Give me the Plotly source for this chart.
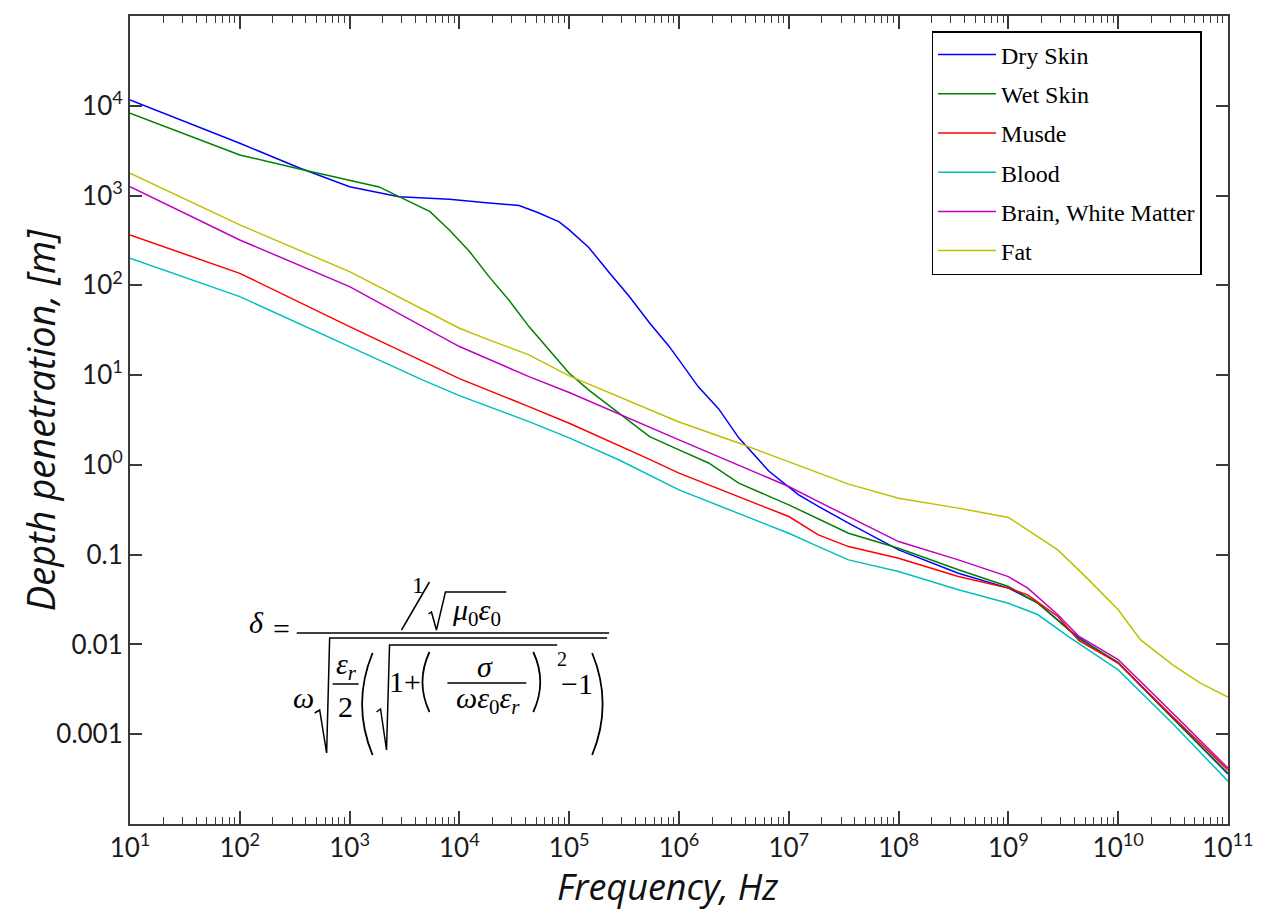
import plotly.graph_objects as go

# ---------------- data ----------------
dry_f = [1e1, 1e2, 3.5e2, 1e3, 2.82e3, 8.1e3, 1.86e4, 3.5e4, 5.3e4, 8.1e4, 1e5, 1.5e5, 2.3e5,
         3.5e5, 5.4e5, 8.1e5, 1e6, 1.5e6, 2.3e6, 3.5e6, 6.6e6, 1e7, 1.23e7, 1.86e7,
         3.5e7, 1e8, 3.5e8, 1e9, 1.86e9, 4.4e9, 1e10, 3.16e10, 1e11]
dry_d = [11600, 3820, 2030, 1256, 972, 910, 827, 775, 640, 510, 414, 266, 140,
         76, 38, 21, 14.8, 7.4, 4.2, 2.0, 0.85, 0.574, 0.464, 0.345,
         0.224, 0.113, 0.0622, 0.0424, 0.0288, 0.0118, 0.0062, 0.0015, 0.00036]

wet_f = [1e1, 1e2, 3.5e2, 1e3, 1.86e3, 2.82e3, 5.4e3, 8.1e3, 1.23e4, 1.86e4, 2.82e4, 4.3e4,
         6.6e4, 1e5, 1.5e5, 2.82e5, 5.4e5, 1e6, 1.86e6, 3.5e6, 1e7, 3.5e7, 1e8, 3.5e8, 1e9,
         1.86e9, 4.4e9, 1e10, 3.16e10, 1e11]
wet_d = [8250, 2830, 1980, 1490, 1247, 972, 662, 414, 240, 125, 68.7, 34.7,
         19.1, 10.5, 6.84, 3.76, 2.06, 1.47, 1.05, 0.626, 0.359, 0.173, 0.118, 0.0678, 0.0442,
         0.0288, 0.0115, 0.0063, 0.0015, 0.00037]

muscle_f = [1e1, 1e2, 1e3, 1e4, 4.3e4, 1e5, 5.4e5, 1e6, 1e7, 1.86e7, 3.5e7, 1e8, 3.5e8, 1e9,
            1.5e9, 2.82e9, 4.4e9, 1e10, 3.16e10, 1e11]
muscle_d = [364, 136, 34.7, 9.14, 4.46, 2.91, 1.15, 0.809, 0.266, 0.166, 0.123, 0.0914, 0.057, 0.0424,
            0.0357, 0.0205, 0.011, 0.0062, 0.00155, 0.0004]

blood_f = [1e1, 1e2, 1e3, 4.6e3, 1e4, 4.3e4, 1e5, 2.82e5, 1e6, 1e7, 1.86e7, 3.5e7, 1e8, 3.5e8,
           1e9, 1.86e9, 3.5e9, 1e10, 3.16e10, 1e11]
blood_d = [200, 74.8, 20.8, 8.85, 5.91, 3.03, 2.0, 1.14, 0.527, 0.173, 0.123, 0.0875, 0.0649, 0.0406,
           0.0288, 0.0214, 0.0123, 0.0052, 0.0013, 0.0003]

brain_f = [1e1, 1e2, 1e3, 1e4, 4.3e4, 1e5, 1e6, 1e7, 1.86e7, 3.5e7, 1e8, 3.5e8, 1e9, 1.5e9,
           2.82e9, 4.4e9, 1e10, 3.16e10, 1e11]
brain_d = [1256, 320, 96.8, 20.8, 9.62, 6.4, 1.9, 0.574, 0.39, 0.266, 0.14, 0.0875, 0.057, 0.0424,
           0.0214, 0.01226, 0.0068, 0.0017, 0.00042]

fat_f = [1e1, 1e2, 1e3, 8.1e3, 1e4, 1.86e4, 4.3e4, 1e5, 1e6, 3.5e6, 1e7, 1.86e7, 3.5e7, 1e8,
         3.5e8, 1e9, 1.5e9, 2.82e9, 5.4e9, 1e10, 1.6e10, 3.16e10, 5.6e10, 1e11]
fat_d = [1771, 471, 142, 37.8, 33.3, 24.7, 16.8, 9.8, 3.0, 1.75, 1.09, 0.809, 0.61, 0.426,
         0.33, 0.26, 0.189, 0.113, 0.0524, 0.0243, 0.01125, 0.0059, 0.0037, 0.0026]

series_names = ["Dry Skin", "Wet Skin", "Musde", "Blood", "Brain, White Matter", "Fat"]
series_f = [dry_f, wet_f, muscle_f, blood_f, brain_f, fat_f]
series_d = [dry_d, wet_d, muscle_d, blood_d, brain_d, fat_d]
series_colors = ["#0000FF", "#008000", "#FF0000", "#00BFBF", "#BF00BF", "#BFBF00"]

x_tickvals = [10 ** k for k in range(1, 12)]
x_ticktext = ["10<sup>%d</sup>" % k for k in range(1, 12)]
y_tickvals = [1e-3, 1e-2, 1e-1, 1e0, 1e1, 1e2, 1e3, 1e4, 1e5]
y_ticktext = ["0.001", "0.01", "0.1", "10<sup>0</sup>", "10<sup>1</sup>", "10<sup>2</sup>",
              "10<sup>3</sup>", "10<sup>4</sup>", "10<sup>5</sup>"]

# ---------------- figure ----------------
W, H = 1266, 914
ML, MR, MT, MB = 130, 36, 16, 90
PW, PH = W - ML - MR, H - MT - MB


def px(x):
    return (x - ML) / PW


def py(y):
    return (MT + PH - y) / PH


fig = go.Figure()
for i, (name, f, d, c) in enumerate(zip(series_names, series_f, series_d, series_colors)):
    fig.add_trace(go.Scatter(x=f, y=d, mode="lines", name=name, legendgroup="g%d" % i,
                             line=dict(color=c, width=1.5)))

axis_col = "#3a3a3a"
tick_font = dict(family="Lato, Open Sans, sans-serif", size=26, color="#1a1a1a")
minor_x = [m * 10 ** k for k in range(1, 11) for m in range(2, 10)]

fig.update_xaxes(type="log", range=[1, 11], tickmode="array", tickvals=x_tickvals,
                 ticktext=x_ticktext, ticks="inside", ticklen=13, tickwidth=1.5,
                 tickcolor=axis_col, showline=True, linecolor=axis_col, linewidth=2,
                 mirror="ticks", showgrid=False, zeroline=False, tickfont=tick_font,
                 minor=dict(tickvals=minor_x, ticks="inside", ticklen=7, tickwidth=1.2,
                            tickcolor=axis_col, showgrid=False))
fig.update_yaxes(type="log", range=[-4, 5], tickmode="array", tickvals=y_tickvals,
                 ticktext=y_ticktext, ticks="inside", ticklen=12, tickwidth=1.5,
                 tickcolor=axis_col, showline=True, linecolor=axis_col, linewidth=2,
                 mirror="ticks", showgrid=False, zeroline=False, tickfont=tick_font)

annotations = [
    dict(text="<i>Frequency, Hz</i>", x=px(668), y=py(886), xref="paper", yref="paper",
         showarrow=False, xanchor="center", yanchor="middle",
         font=dict(family="Open Sans, Lato, sans-serif", size=36, color="#111111")),
    dict(text="<i>Depth penetration, [m]</i>", x=px(40), y=py(420), xref="paper", yref="paper",
         showarrow=False, xanchor="center", yanchor="middle", textangle=-90,
         font=dict(family="Open Sans, Lato, sans-serif", size=38, color="#111111")),
]

# ---------------- formula (text + drawn strokes) ----------------
eq_font = dict(family="Liberation Serif, Times New Roman, serif", size=30, color="black")
eq_small = dict(family="Liberation Serif, Times New Roman, serif", size=20, color="black")


def eq_text(t, x, y, font=eq_font):
    annotations.append(dict(text=t, x=px(x), y=py(y), xref="paper", yref="paper",
                            showarrow=False, xanchor="center", yanchor="middle", font=font))


eq_text("<i>δ</i>", 257, 622)
eq_text("=", 282, 628)
eq_text("1", 419, 585, dict(eq_font, size=24))
eq_text("<i>μ</i><sub>0</sub><i>ε</i><sub>0</sub>", 477, 612)
eq_text("<i>ω</i>", 304, 697)
eq_text("<i>ε<sub>r</sub></i>", 347, 666)
eq_text("2", 346, 706)
eq_text("1+", 405, 681)
eq_text("<i>σ</i>", 486, 666)
eq_text("<i>ωε</i><sub>0</sub><i>ε<sub>r</sub></i>", 489, 700)
eq_text("2", 563, 659, eq_small)
eq_text("−1", 578, 683)

shapes = []


def seg(x0, y0, x1, y1, w=1.5):
    shapes.append(dict(type="line", xref="paper", yref="paper", x0=px(x0), y0=py(y0),
                       x1=px(x1), y1=py(y1), line=dict(color="black", width=w)))


def path(pts, w=1.5):
    d = "M " + " L ".join("%f,%f" % (px(a), py(b)) for a, b in pts)
    shapes.append(dict(type="path", xref="paper", yref="paper", path=d,
                       line=dict(color="black", width=w)))


def paren(xe, xm, y0, y1, w=1.8):
    d = "M %f,%f Q %f,%f %f,%f" % (px(xe), py(y0), px(xm), py((y0 + y1) / 2), px(xe), py(y1))
    shapes.append(dict(type="path", xref="paper", yref="paper", path=d,
                       line=dict(color="black", width=w)))


seg(297, 633, 610, 633)                      # main fraction bar
seg(402, 630, 430, 582)                      # slash in numerator
path([(429, 614), (432, 612), (437, 630), (446, 592), (507, 592)])   # sqrt numerator
path([(315, 713), (320, 710), (327, 753), (330, 638), (608, 638)])   # big sqrt
seg(333, 684, 359, 684)                      # eps_r / 2 bar
paren(373, 352, 653, 755)                    # big (
paren(593, 614, 653, 755)                    # big )
path([(377, 712), (381, 709), (387, 750), (390, 645), (558, 645)])   # inner sqrt
paren(430, 416, 652, 712)                    # small (
paren(534, 548, 652, 712)                    # small )
seg(448, 683, 527, 683)                      # sigma bar

fig.update_layout(
    width=W, height=H, margin=dict(l=ML, r=MR, t=MT, b=MB),
    paper_bgcolor="white", plot_bgcolor="white",
    showlegend=True,
    legend=dict(x=px(933), y=py(31), xanchor="left", yanchor="top", bgcolor="white",
                bordercolor="black", borderwidth=1.5, tracegroupgap=5, itemwidth=58,
                font=dict(family="Liberation Serif, Times New Roman, serif", size=24,
                          color="black")),
    annotations=annotations, shapes=shapes,
)

fig.write_html("out.html")
